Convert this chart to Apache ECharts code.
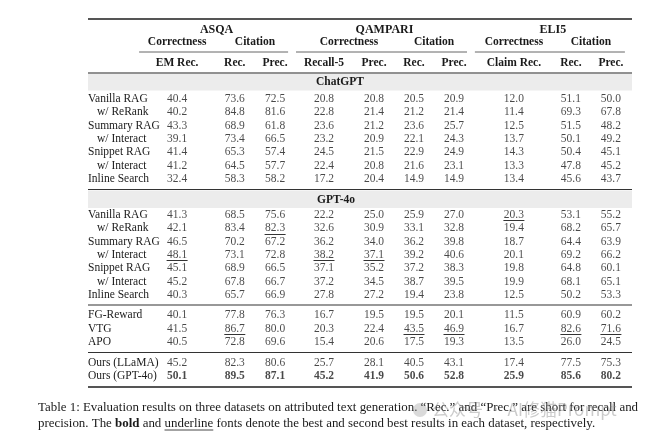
<!DOCTYPE html>
<html><head><meta charset="utf-8">
<script src="https://cdn.jsdelivr.net/npm/echarts@6/dist/echarts.min.js"></script>
<style>html,body{margin:0;padding:0;background:#fff}#c{width:654px;height:440px}</style>
</head><body><div id="c"></div>
<script>
// ---------- data ----------
const datasets = ['ASQA', 'QAMPARI', 'ELI5'];
const groups = ['Correctness', 'Citation', 'Correctness', 'Citation', 'Correctness', 'Citation'];
const metrics = ['EM Rec.', 'Rec.', 'Prec.', 'Recall-5', 'Prec.', 'Rec.', 'Prec.', 'Claim Rec.', 'Rec.', 'Prec.'];
const sections = ['ChatGPT', 'GPT-4o'];
const methods = ['Vanilla RAG', 'w/ ReRank', 'Summary RAG', 'w/ Interact', 'Snippet RAG', 'w/ Interact', 'Inline Search'];
const chatgpt = [
  [40.4, 73.6, 72.5, 20.8, 20.8, 20.5, 20.9, 12.0, 51.1, 50.0],
  [40.2, 84.8, 81.6, 22.8, 21.4, 21.2, 21.4, 11.4, 69.3, 67.8],
  [43.3, 68.9, 61.8, 23.6, 21.2, 23.6, 25.7, 12.5, 51.5, 48.2],
  [39.1, 73.4, 66.5, 23.2, 20.9, 22.1, 24.3, 13.7, 50.1, 49.2],
  [41.4, 65.3, 57.4, 24.5, 21.5, 22.9, 24.9, 14.3, 50.4, 45.1],
  [41.2, 64.5, 57.7, 22.4, 20.8, 21.6, 23.1, 13.3, 47.8, 45.2],
  [32.4, 58.3, 58.2, 17.2, 20.4, 14.9, 14.9, 13.4, 45.6, 43.7]
];
const gpt4o = [
  [41.3, 68.5, 75.6, 22.2, 25.0, 25.9, 27.0, 20.3, 53.1, 55.2],
  [42.1, 83.4, 82.3, 32.6, 30.9, 33.1, 32.8, 19.4, 68.2, 65.7],
  [46.5, 70.2, 67.2, 36.2, 34.0, 36.2, 39.8, 18.7, 64.4, 63.9],
  [48.1, 73.1, 72.8, 38.2, 37.1, 39.2, 40.6, 20.1, 69.2, 66.2],
  [45.1, 68.9, 66.5, 37.1, 35.2, 37.2, 38.3, 19.8, 64.8, 60.1],
  [45.2, 67.8, 66.7, 37.2, 34.5, 38.7, 39.5, 19.9, 68.1, 65.1],
  [40.3, 65.7, 66.9, 27.8, 27.2, 19.4, 23.8, 12.5, 50.2, 53.3]
];
const baselineNames = ['FG-Reward', 'VTG', 'APO'];
const baselines = [
  [40.1, 77.8, 76.3, 16.7, 19.5, 19.5, 20.1, 11.5, 60.9, 60.2],
  [41.5, 86.7, 80.0, 20.3, 22.4, 43.5, 46.9, 16.7, 82.6, 71.6],
  [40.5, 72.8, 69.6, 15.4, 20.6, 17.5, 19.3, 13.5, 26.0, 24.5]
];
const oursNames = ['Ours (LLaMA)', 'Ours (GPT-4o)'];
const ours = [
  [45.2, 82.3, 80.6, 25.7, 28.1, 40.5, 43.1, 17.4, 77.5, 75.3],
  [50.1, 89.5, 87.1, 45.2, 41.9, 50.6, 52.8, 25.9, 85.6, 80.2]
];
// second best (underlined): [block, row, column]
const secondBest = [[1,0,7],[1,1,2],[1,3,0],[1,3,3],[1,3,4],[2,1,1],[2,1,5],[2,1,6],[2,1,8],[2,1,9]];
// best (bold): [block, row]
const bestRows = [[3,1]];
const caption1 = 'Table 1: Evaluation results on three datasets on attributed text generation. \u201CRec.\u201D and \u201CPrec.\u201D are short for recall and';
const caption2 = ['precision. The ', 'bold', ' and ', 'underline', ' fonts denote the best and second best results in each dataset, respectively.'];
const watermark = '\u516C\u4F17\u53F7 \u00B7 AI\u4FEE\u732BPrompt';

// ---------- layout / style ----------
const FONT = '"Liberation Serif", "DejaVu Serif", serif';
const FS = 11.5;
const INK = '#1a1a1a';
const TL = 88, TR = 632;                 // table left / right
const gridLeft = 153, gridWidth = 482;
const blockTop = [92.33, 208.33, 308.2, 356];
const blockHeight = [93.33, 93.33, 41, 26.7];
const colShift = [0, 9.5, 1.6, 2.3, 4.1, -4.1, -12.3, -0.6, 8.2, 0];
const groupSpan = [[0,0],[1,2],[3,4],[5,6],[7,7],[8,9]];
const dsSpan = [[0,2],[3,6],[7,9]];
const dsRulePad = [[38,13],[28,13],[39,14]];

const blocks = [
  {names: methods, values: chatgpt},
  {names: methods, values: gpt4o},
  {names: baselineNames, values: baselines},
  {names: oursNames, values: ours}
];

const chart = echarts.init(document.getElementById('c'), null, {renderer: 'canvas'});

const grids = [], xAxes = [], yAxes = [], series = [];
blocks.forEach((b, bi) => {
  grids.push({left: gridLeft, width: gridWidth, top: blockTop[bi], height: blockHeight[bi], outerBoundsMode: 'none', containLabel: false});
  xAxes.push({type: 'category', gridIndex: bi, data: metrics, boundaryGap: true,
    axisLine: {show: false}, axisTick: {show: false}, axisLabel: {show: false}, splitLine: {show: false}});
  yAxes.push({type: 'category', gridIndex: bi, data: b.names, inverse: true, boundaryGap: true,
    axisLine: {show: false}, axisTick: {show: false}, splitLine: {show: false},
    axisLabel: {
      show: true, interval: 0, hideOverlap: false, align: 'left', margin: gridLeft - TL,
      fontFamily: FONT, fontSize: FS, color: INK,
      formatter: v => v.startsWith('w/') ? '{ind|' + v + '}' : v,
      rich: {ind: {padding: [0, 0, 0, 9], fontFamily: FONT, fontSize: FS, color: INK}}
    }});
  const cells = [];
  b.values.forEach((row, r) => {
    const bold = bestRows.some(p => p[0] === bi && p[1] === r);
    row.forEach((v, c) => {
      cells.push({value: [c, r, v], label: {offset: [colShift[c], 0], fontWeight: bold ? 'bold' : 'normal'}});
    });
  });
  series.push({
    type: 'scatter', xAxisIndex: bi, yAxisIndex: bi, symbolSize: 0, silent: true,
    itemStyle: {color: 'transparent'},
    label: {show: true, position: 'inside', fontFamily: FONT, fontSize: FS, color: INK,
      formatter: p => p.value[2].toFixed(1)},
    data: cells
  });
  const ul = secondBest.filter(p => p[0] === bi).map(p => [p[2], p[1]]);
  series.push({
    type: 'custom', xAxisIndex: bi, yAxisIndex: bi, silent: true, z: 3,
    encode: {x: 0, y: 1},
    renderItem: (params, api) => {
      const c = api.value(0);
      const p = api.coord([c, api.value(1)]);
      const cx = p[0] + colShift[c];
      const y = Math.round(p[1] + 5.2) + 0.5;
      return {type: 'line', shape: {x1: cx - 10.5, y1: y, x2: cx + 10.5, y2: y},
        style: {stroke: '#333', lineWidth: 1}};
    },
    data: ul
  });
});

chart.setOption({
  animation: false,
  backgroundColor: '#fff',
  grid: grids, xAxis: xAxes, yAxis: yAxes, series: series
});

// ---------- headers, rules, caption ----------
const colX = metrics.map((m, c) => chart.convertToPixel({xAxisIndex: 0}, c) + colShift[c]);
const g = [];
const txt = (x, y, s, opts) => g.push({type: 'text', x: x, y: y, silent: true,
  style: Object.assign({text: s, font: (opts && opts.font) || ('bold ' + FS + 'px ' + FONT), fill: INK,
    textAlign: 'center', textVerticalAlign: 'middle'}, (opts && opts.style) || {})});
const hline = (x1, x2, y, w, col) => g.push({type: 'line', silent: true,
  shape: {x1: x1, y1: y, x2: x2, y2: y}, style: {stroke: col || '#333', lineWidth: w || 1}});

// gray section bands
g.push({type: 'rect', silent: true, shape: {x: TL, y: 74, width: TR - TL, height: 16.5}, style: {fill: '#ececec'}});
g.push({type: 'rect', silent: true, shape: {x: TL, y: 190.5, width: TR - TL, height: 17.5}, style: {fill: '#ececec'}});
txt(340, 82.5, sections[0]);
txt(336, 200, sections[1]);

// rules
hline(TL, TR, 19, 1.8, '#555');
hline(TL, TR, 73, 1, '#222');
hline(TL, TR, 189.5, 1.2, '#333');
hline(TL, TR, 305, 1.2, '#333');
hline(TL, TR, 352.5, 1.2, '#333');
hline(TL, TR, 387, 1.8, '#555');

datasets.forEach((d, i) => {
  const x1 = colX[dsSpan[i][0]] - dsRulePad[i][0], x2 = colX[dsSpan[i][1]] + dsRulePad[i][1];
  hline(x1, x2, 52, 1, '#666');
  txt((x1 + x2) / 2 + 3, 29.5, d, {font: 'bold 12px ' + FONT});
});
groups.forEach((gr, i) => {
  const x = (colX[groupSpan[i][0]] + colX[groupSpan[i][1]]) / 2;
  txt(x, 42.5, gr);
});
metrics.forEach((m, c) => txt(colX[c], 63.5, m));

// caption (fit line 1 to the reference width)
const cv = document.createElement('canvas').getContext('2d');
const measure = (s, f) => { cv.font = f; return cv.measureText(s).width; };
const CX = 38;
const capFS = Math.min(14, 10 * 601 / measure(caption1, '10px ' + FONT));
const capFont = capFS + 'px ' + FONT, capBold = 'bold ' + capFS + 'px ' + FONT;
g.push({type: 'text', x: CX, y: 408, silent: true, style: {text: caption1, font: capFont, fill: INK, textAlign: 'left', textVerticalAlign: 'middle'}});
let x = CX;
caption2.forEach((s, i) => {
  const f = i === 1 ? capBold : capFont;
  const w = measure(s, f);
  g.push({type: 'text', x: x, y: 424, silent: true, style: {text: s, font: f, fill: INK, textAlign: 'left', textVerticalAlign: 'middle'}});
  if (i === 3) hline(x, x + w, 430, 0.9, '#333');
  x += w;
});
// watermark
g.push({type: 'circle', silent: true, shape: {cx: 420, cy: 410, r: 7}, style: {fill: 'rgba(150,150,150,0.35)'}});
g.push({type: 'text', x: 432, y: 410, silent: true, style: {text: watermark, font: '17px "Noto Sans CJK SC", sans-serif',
  fill: 'rgba(140,140,140,0.45)', textAlign: 'left', textVerticalAlign: 'middle'}});

chart.setOption({graphic: {elements: g}});
</script>
</body></html>
